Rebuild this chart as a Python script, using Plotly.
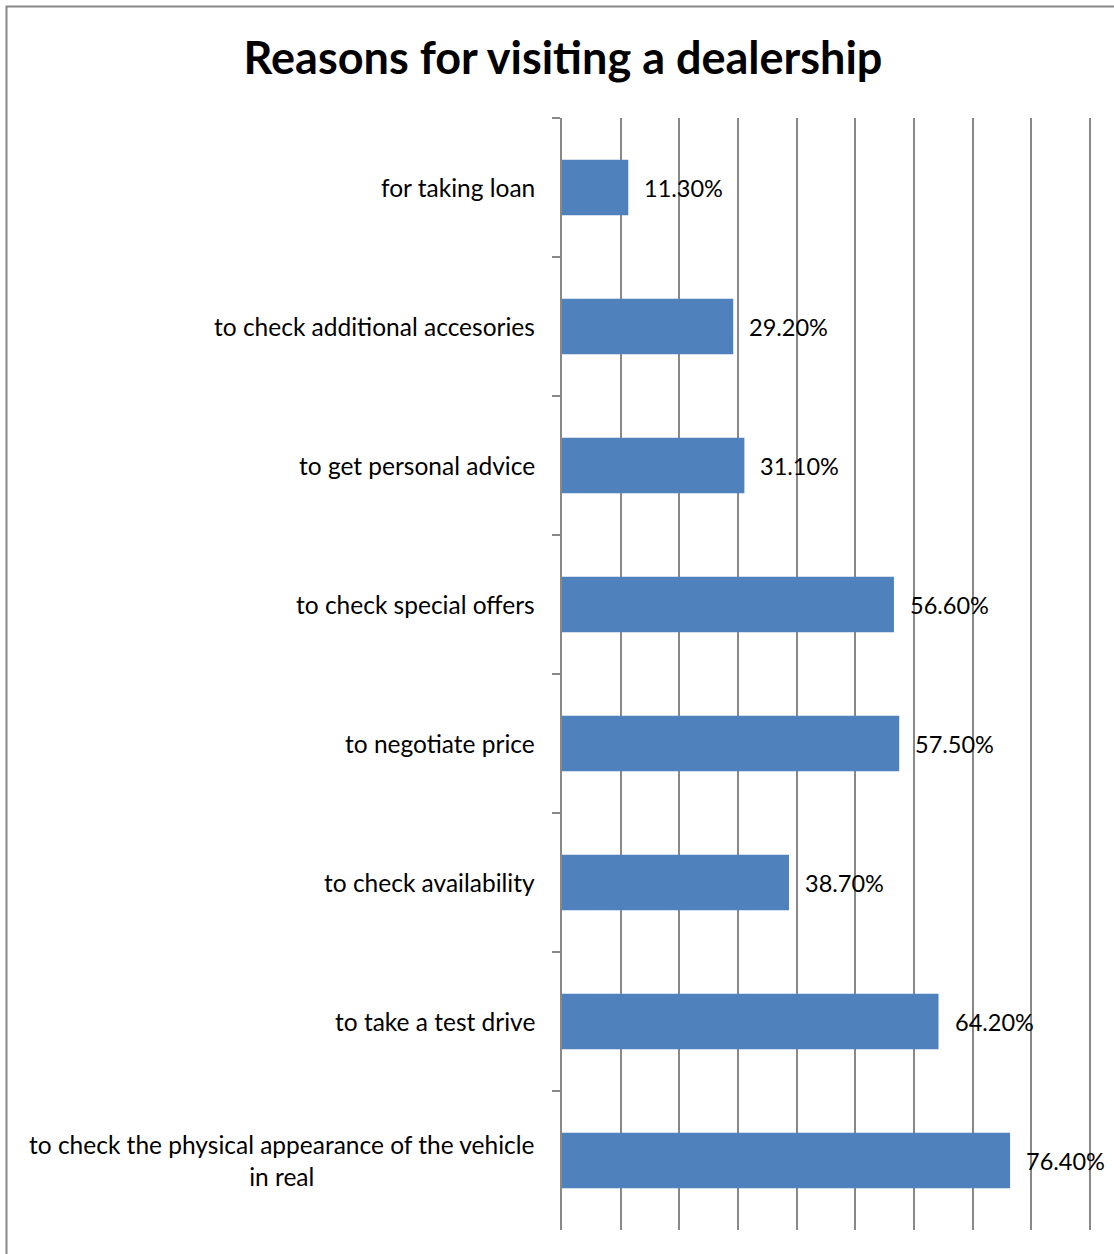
import plotly.graph_objects as go

categories = [
    "for taking loan",
    "to check additional accesories",
    "to get personal advice",
    "to check special offers",
    "to negotiate price",
    "to check availability",
    "to take a test drive",
    "to check the physical appearance of the vehicle<br>in real",
]
values = [11.30, 29.20, 31.10, 56.60, 57.50, 38.70, 64.20, 76.40]
labels = [f"{v:.2f}%" for v in values]

W, H = 1114, 1254
L, R, T, B = 562, 23, 118, 24
pw, ph = W - L - R, H - T - B

FONT = "Lato"
GRID = "#888888"

fig = go.Figure()
fig.add_trace(go.Bar(
    x=values, y=categories, orientation="h",
    marker=dict(color="#4F81BD", line=dict(width=0)),
    hoverinfo="skip",
))

annotations = []
for c in categories:
    annotations.append(dict(
        x=0, xref="paper", y=c, yref="y", text=c, showarrow=False,
        xanchor="right", yanchor="middle", align="center", xshift=-25,
        font=dict(family=FONT, size=24.5, color="black"),
    ))
for c, v, t in zip(categories, values, labels):
    annotations.append(dict(
        x=v, xref="x", y=c, yref="y", text=t, showarrow=False,
        xanchor="left", yanchor="middle", xshift=14,
        font=dict(family=FONT, size=23.5, color="black"),
    ))

def px_x(p):
    return (p - L) / pw

def px_y(p):
    return (H - B - p) / ph

fig.update_layout(
    width=W, height=H,
    margin=dict(l=L, r=R, t=T, b=B),
    paper_bgcolor="white", plot_bgcolor="white",
    showlegend=False,
    bargap=0.6,
    title=dict(
        text="<b>Reasons for visiting a dealership</b>",
        x=(563) / W, xanchor="center", xref="container",
        y=1 - 58 / H, yanchor="middle", yref="container",
        font=dict(family=FONT, size=45, color="black"),
    ),
    xaxis=dict(
        range=[0, 90.2], dtick=10, tick0=0,
        showgrid=True, gridcolor=GRID, gridwidth=1.5,
        showticklabels=False, zeroline=False, ticks="", showline=False,
        fixedrange=True,
    ),
    yaxis=dict(
        categoryorder="array", categoryarray=categories,
        autorange="reversed",
        showline=True, linecolor=GRID, linewidth=1.5,
        ticks="outside", tickson="boundaries", ticklen=8,
        tickcolor=GRID, tickwidth=1.5,
        showticklabels=False, showgrid=False, zeroline=False,
    ),
    annotations=annotations,
    shapes=[dict(
        type="rect", xref="paper", yref="paper",
        x0=px_x(6.5), x1=px_x(W + 20), y0=px_y(H + 20), y1=px_y(6.5),
        line=dict(color="#888888", width=2), fillcolor="rgba(0,0,0,0)",
        layer="above",
    )],
)

fig.write_html("out.html")
